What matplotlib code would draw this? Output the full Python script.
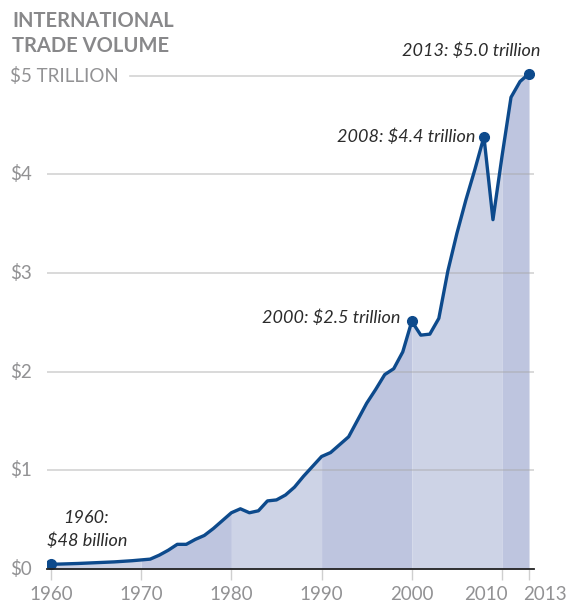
import numpy as np
import matplotlib.pyplot as plt
import matplotlib.transforms as mtransforms

plt.rcParams['font.family'] = ['Lato', 'DejaVu Sans']

# world trade volume, trillions of dollars
years = np.arange(1960, 2014)
volume = [0.048, 0.050, 0.053, 0.056, 0.060, 0.064, 0.068, 0.072, 0.078, 0.084,
          0.092, 0.10, 0.14, 0.19, 0.25, 0.25, 0.30, 0.34, 0.41, 0.49,
          0.57, 0.61, 0.57, 0.59, 0.69, 0.70, 0.75, 0.83, 0.94, 1.04,
          1.14, 1.18, 1.26, 1.34, 1.51, 1.68, 1.82, 1.97, 2.03, 2.20,
          2.51, 2.37, 2.38, 2.54, 3.02, 3.40, 3.74, 4.05, 4.38, 3.54,
          4.18, 4.78, 4.94, 5.02]
volume = np.array(volume)

band_edges = [1960, 1970, 1980, 1990, 2000, 2010, 2013]
band_colors = ['#cdd3e6', '#bec5df']
xtick_years = [1960, 1970, 1980, 1990, 2000, 2010, 2013]
ytick_vals = [0, 1, 2, 3, 4, 5]
ytick_labels = ['$0', '$1', '$2', '$3', '$4', '$5 TRILLION']

highlight_years = [1960, 2000, 2008, 2013]

GRAY = '#929294'
BLUE = '#0d4a8c'

fig = plt.figure(figsize=(5.71, 6.07), dpi=100)
ax = fig.add_axes([47 / 571, 1 - 569 / 607, (534 - 47) / 571, (569 - 46) / 607])
ax.set_xlim(1959.56, 2013.55)
ax.set_ylim(0, 5.3)

# alternating decade shading under the curve
for i in range(len(band_edges) - 1):
    a, b = band_edges[i], band_edges[i + 1]
    m = (years >= a) & (years <= b)
    ax.fill_between(years[m], 0, volume[m], color=band_colors[i % 2],
                    linewidth=0, zorder=1)

# horizontal gridlines, drawn over the fill
for v in ytick_vals[1:]:
    start = 0.17 if v == 5 else 0.0
    ax.axhline(v, xmin=start, xmax=1, color='#a8a8a8', alpha=0.5, lw=1.2, zorder=2)

ax.plot(years, volume, color=BLUE, lw=2.4, zorder=4, solid_joinstyle='round')
hi = np.isin(years, highlight_years)
ax.plot(years[hi], volume[hi], 'o', color=BLUE, ms=7, zorder=5)

for s in ['top', 'right', 'left']:
    ax.spines[s].set_visible(False)
ax.spines['bottom'].set_color('#222222')
ax.spines['bottom'].set_linewidth(1.3)
ax.spines['bottom'].set_zorder(6)

ax.set_yticks([])
ax.set_xticks(xtick_years)
ax.set_xticklabels([str(y) for y in xtick_years])
ax.tick_params(axis='x', direction='out', length=8, width=1, color='#cfcfcf',
               labelsize=13.5, labelcolor=GRAY, pad=4)

# pull the last two year labels apart so they don't collide
nudge = {'2010': -16, '2013': 16}
for lab in ax.get_xticklabels():
    dx = nudge.get(lab.get_text(), 0)
    if dx:
        lab.set_transform(lab.get_transform() +
                          mtransforms.ScaledTranslation(dx / 100, 0, fig.dpi_scale_trans))

# y labels sit at the left edge of the figure
trans = mtransforms.blended_transform_factory(fig.transFigure, ax.transData)
for v, lab in zip(ytick_vals, ytick_labels):
    ax.text(10 / 571, v, lab, transform=trans, ha='left', va='center',
            fontsize=13.5, color=GRAY)

fig.text(12 / 571, 1 - 21 / 607, 'INTERNATIONAL', fontsize=14.5, fontweight='bold',
         color='#88888a', ha='left', va='center')
fig.text(12 / 571, 1 - 46 / 607, 'TRADE VOLUME', fontsize=14.5, fontweight='bold',
         color='#88888a', ha='left', va='center')

# callouts
note = dict(fontsize=13, style='italic', color='#2b2b2b')
ax.text(2014.3, 5.25, '2013: $5.0 trillion', ha='right', va='center', **note)
ax.text(2007.0, 4.38, '2008: $4.4 trillion', ha='right', va='center', **note)
ax.text(1998.7, 2.55, '2000: $2.5 trillion', ha='right', va='center', **note)
ax.text(1963.9, 0.52, '1960:', ha='center', va='center', **note)
ax.text(1964.0, 0.29, '$48 billion', ha='center', va='center', **note)

fig.savefig('out.png', dpi=100)
